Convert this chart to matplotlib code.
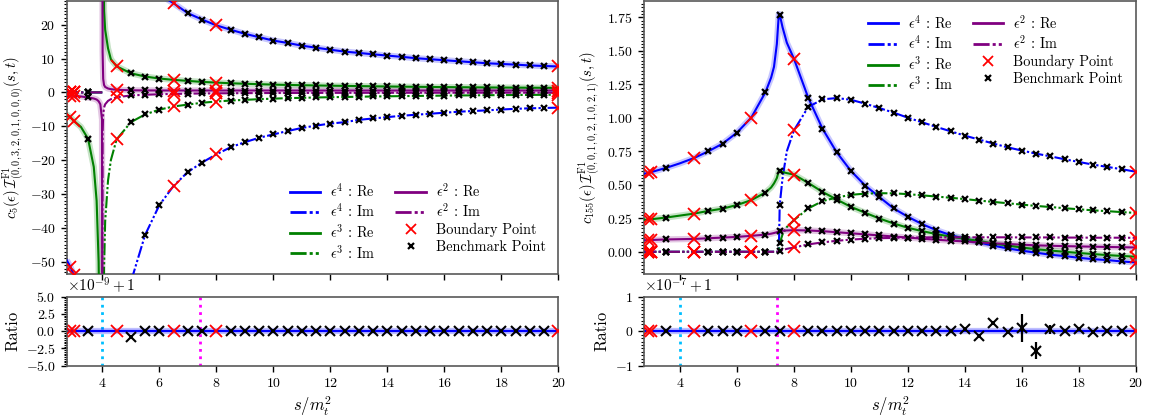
import numpy as np
import matplotlib
matplotlib.use("Agg")
import matplotlib.pyplot as plt
from matplotlib.ticker import AutoMinorLocator, FormatStrFormatter
from matplotlib.lines import Line2D

plt.rcParams.update({
    "font.family": "serif",
    "font.serif": ["cmr10", "DejaVu Serif"],
    "mathtext.fontset": "cm",
    "axes.formatter.use_mathtext": True,
    "axes.unicode_minus": True,
    "font.size": 10,
})

# ---------------- sample points ----------------
BOUNDARY_S = [2.88, 3.0, 4.5, 6.5, 8.0, 20.0]
BENCH_S = [3.5, 5.0, 5.5, 6.0, 7.0, 7.5, 8.5, 9.0, 9.5, 10.0, 10.5, 11.0, 11.5, 12.0,
           12.5, 13.0, 13.5, 14.0, 14.5, 15.0, 15.5, 16.0, 16.5, 17.0, 17.5, 18.0,
           18.5, 19.0, 19.5]
THRESH_1 = 4.0
THRESH_2 = 7.42

# ---------------- left panel: below threshold s<4 ----------------
L_s_below = [2.75, 2.88, 3.0, 3.25, 3.5, 3.7, 3.8, 3.87, 3.93, 3.99, 3.999]
L_e4re_below = [-49.5, -51.5, -54.0, -60.0, -68.0, -82.0, -95.0, -115.0, -150.0, -500.0, -2000.0]
L_e4im_below = [0.0] * 11
L_e3re_below = [-6.5, -7.3, -8.4, -10.2, -13.7, -22.0, -32.0, -50.0, -90.0, -600.0, -2000.0]
L_e3im_below = [0.0] * 11
L_e2re_below = [-0.9, -0.95, -1.0, -1.2, -1.5, -1.8, -2.1, -2.6, -3.5, -8.0, -100.0]
L_e2im_below = [0.0] * 11

# ---------------- left panel: above threshold s>4 ----------------
L_s_above = [4.001, 4.01, 4.03, 4.06, 4.1, 4.2, 4.3, 4.5, 5.0, 5.5, 6.0, 6.5, 7.0, 7.5, 8.0,
             8.5, 9.0, 9.5, 10.0, 10.5, 11.0, 11.5, 12.0, 12.5, 13.0, 13.5, 14.0, 14.5,
             15.0, 15.5, 16.0, 16.5, 17.0, 17.5, 18.0, 18.5, 19.0, 19.5, 20.0]
L_e4re_above = [3000, 800, 300, 170, 120, 85, 72, 58, 43, 35, 29.0, 26.3, 23.4, 21.5, 19.8,
                18.5, 17.3, 16.3, 15.3, 14.6, 13.8, 13.2, 12.6, 12.05, 11.66, 11.25, 10.87,
                10.5, 10.1, 9.8, 9.5, 9.2, 8.9, 8.6, 8.4, 8.2, 7.95, 7.8, 7.65]
L_e4im_above = [-3000, -900, -400, -250, -190, -130, -105, -80, -56, -42.1, -33.3, -27.6,
                -23.5, -20.7, -18.3, -16.2, -14.7, -13.4, -12.4, -11.4, -10.5, -9.8, -9.2,
                -8.8, -8.1, -7.7, -7.3, -6.9, -6.6, -6.3, -6.0, -5.7, -5.5, -5.3, -5.05,
                -4.85, -4.7, -4.6, -4.5]
L_e3re_above = [1000, 200, 50, 24, 18.5, 13.0, 9.8, 7.7, 5.65, 4.68, 4.1, 3.7, 3.4, 3.1, 2.9,
                2.7, 2.55, 2.42, 2.3, 2.2, 2.12, 2.05, 1.98, 1.92, 1.86, 1.8, 1.75, 1.7,
                1.65, 1.61, 1.57, 1.53, 1.5, 1.46, 1.43, 1.41, 1.38, 1.36, 1.34]
L_e3im_above = [-3000, -300, -90, -52, -38, -26, -20, -13.9, -8.8, -6.5, -5.1, -4.15, -3.6,
                -3.05, -2.7, -2.4, -2.2, -2.0, -1.85, -1.7, -1.6, -1.5, -1.42, -1.35, -1.28,
                -1.2, -1.15, -1.1, -1.05, -1.0, -0.95, -0.9, -0.87, -0.83, -0.8, -0.77,
                -0.74, -0.72, -0.7]
L_e2re_above = [100, 12, 4.0, 2.2, 1.6, 1.15, 0.95, 0.77, 0.62, 0.58, 0.57, 0.56, 0.56, 0.56,
                0.56, 0.56, 0.56, 0.56, 0.56, 0.56, 0.56, 0.56, 0.56, 0.56, 0.56, 0.56, 0.55,
                0.55, 0.55, 0.55, 0.55, 0.55, 0.55, 0.55, 0.55, 0.55, 0.55, 0.55, 0.55]
L_e2im_above = [-60, -12, -6.5, -4.5, -3.5, -2.5, -2.0, -1.45, -0.9, -0.7, -0.55, -0.45,
                -0.38, -0.32, -0.28, -0.25, -0.22, -0.2, -0.18, -0.17, -0.16, -0.15, -0.14,
                -0.13, -0.12, -0.12, -0.11, -0.11, -0.1, -0.1, -0.1, -0.09, -0.09, -0.09,
                -0.08, -0.08, -0.08, -0.08, -0.08]

# ---------------- right panel ----------------
R_s = [2.75, 2.88, 3.0, 3.5, 4.0, 4.5, 5.0, 5.5, 6.0, 6.5, 7.0, 7.2, 7.3, 7.4, 7.47, 7.5,
       7.6, 7.75, 8.0, 8.5, 9.0, 9.5, 10.0, 10.5, 11.0, 11.5, 12.0, 12.5, 13.0, 13.5, 14.0,
       14.5, 15.0, 15.5, 16.0, 16.5, 17.0, 17.5, 18.0, 18.5, 19.0, 19.5, 20.0]
R_e4re = [0.582, 0.588, 0.595, 0.625, 0.66, 0.70, 0.75, 0.807, 0.889, 1.0, 1.19, 1.30, 1.38,
          1.55, 1.775, 1.77, 1.675, 1.56, 1.44, 1.15, 0.919, 0.742, 0.603, 0.494, 0.408,
          0.323, 0.261, 0.206, 0.161, 0.124, 0.097, 0.07, 0.045, 0.025, 0.008, -0.007,
          -0.022, -0.032, -0.045, -0.055, -0.062, -0.072, -0.08]
R_e4im = [0, 0, 0, 0, 0, 0, 0, 0, 0, 0, 0, 0, 0, 0, 0.0, 0.347, 0.55, 0.75, 0.906, 1.08,
          1.137, 1.147, 1.134, 1.105, 1.072, 1.038, 1.0, 0.966, 0.931, 0.899, 0.866, 0.837,
          0.807, 0.779, 0.755, 0.732, 0.712, 0.69, 0.67, 0.65, 0.633, 0.616, 0.597]
R_e3re = [0.238, 0.241, 0.243, 0.255, 0.27, 0.285, 0.305, 0.322, 0.349, 0.385, 0.442, 0.48,
          0.51, 0.55, 0.605, 0.603, 0.595, 0.587, 0.576, 0.514, 0.447, 0.39, 0.335, 0.291,
          0.248, 0.211, 0.179, 0.154, 0.132, 0.112, 0.097, 0.08, 0.062, 0.047, 0.032,
          0.019, 0.009, 0.0, -0.009, -0.017, -0.025, -0.031, -0.037]
R_e3im = [0, 0, 0, 0, 0, 0, 0, 0, 0, 0, 0, 0, 0, 0, 0.0, 0.062, 0.13, 0.185, 0.236, 0.323,
          0.378, 0.405, 0.425, 0.434, 0.437, 0.436, 0.43, 0.421, 0.412, 0.403, 0.393, 0.382,
          0.372, 0.362, 0.352, 0.342, 0.334, 0.325, 0.317, 0.309, 0.303, 0.296, 0.29]
R_e2re = [0.086, 0.087, 0.088, 0.092, 0.094, 0.096, 0.101, 0.106, 0.111, 0.119, 0.128, 0.135,
          0.14, 0.146, 0.153, 0.154, 0.157, 0.159, 0.161, 0.159, 0.154, 0.146, 0.138, 0.13,
          0.122, 0.114, 0.106, 0.098, 0.09, 0.083, 0.077, 0.07, 0.063, 0.058, 0.053, 0.048,
          0.045, 0.042, 0.04, 0.038, 0.036, 0.034, 0.032]
R_e2im = [0, 0, 0, 0, 0, 0, 0, 0, 0, 0, 0, 0, 0, 0, 0.0, 0.007, 0.013, 0.022, 0.032, 0.055,
          0.07, 0.082, 0.091, 0.097, 0.101, 0.104, 0.106, 0.107, 0.108, 0.108, 0.108, 0.108,
          0.108, 0.108, 0.107, 0.107, 0.107, 0.106, 0.106, 0.105, 0.105, 0.105, 0.104]

# ---------------- ratio panels (deviation from 1, at BENCH_S) ----------------
L_ratio_dev = [0, -0.8e-9, 0, 0, 0, 0, 0, 0, 0, 0, 0, 0, 0, 0, 0, 0, 0, 0, 0, 0, 0, 0, 0, 0,
               0, 0, 0, 0, 0]
L_ratio_err = [0.02e-9, 0.25e-9, 0.02e-9, 0.02e-9, 0.02e-9, 0.02e-9, 0.02e-9, 0.02e-9,
               0.02e-9, 0.02e-9, 0.02e-9, 0.02e-9, 0.02e-9, 0.02e-9, 0.02e-9, 0.02e-9,
               0.02e-9, 0.02e-9, 0.02e-9, 0.02e-9, 0.02e-9, 0.02e-9, 0.02e-9, 0.02e-9,
               0.02e-9, 0.02e-9, 0.02e-9, 0.02e-9, 0.02e-9]
R_ratio_dev = [0, 0, 0, 0, 0, 0, 0, 0, 0, 0, 0, 0, 0, 0, 0, 0, 0,
               0.05e-7, -0.13e-7, 0.25e-7, -0.03e-7, 0.1e-7, -0.57e-7, 0.05e-7, 0.0,
               0.07e-7, -0.03e-7, 0.0, 0.0]
R_ratio_err = [0.01e-7, 0.01e-7, 0.01e-7, 0.01e-7, 0.01e-7, 0.01e-7, 0.01e-7, 0.01e-7,
               0.01e-7, 0.01e-7, 0.01e-7, 0.01e-7, 0.01e-7, 0.01e-7, 0.01e-7, 0.01e-7,
               0.01e-7, 0.04e-7, 0.05e-7, 0.06e-7, 0.02e-7, 0.4e-7, 0.25e-7, 0.12e-7,
               0.05e-7, 0.03e-7, 0.02e-7, 0.01e-7, 0.01e-7]

# tick labels of the ratio panels
L_ratio_ticks = [-5.0, -2.5, 0.0, 2.5, 5.0]
L_ratio_ticklabels = [r"$-5.0$", r"$-2.5$", r"$0.0$", r"$2.5$", r"$5.0$"]
L_ratio_scale = 1e-9
L_ratio_offset = r"$\times10^{-9} + 1$"
R_ratio_ticks = [-1, 0, 1]
R_ratio_ticklabels = [r"$-1$", r"$0$", r"$1$"]
R_ratio_scale = 1e-7
R_ratio_offset = r"$\times10^{-7} + 1$"

# ---------------- styling ----------------
BLUE, GREEN, PURPLE = "#0000ff", "#008000", "#800080"
IM_LS = (0, (5.8, 1.1, 1.1, 1.1, 1.1, 1.1))
LW = 1.5
SPINE = "0.35"

W, H = 1156, 419
fig = plt.figure(figsize=(W / 100, H / 100), dpi=100)


def ax_px(x0, y0, x1, y1):
    return fig.add_axes([x0 / W, 1 - y1 / H, (x1 - x0) / W, (y1 - y0) / H])


axL = ax_px(66.7, 0.6, 558.3, 274.3)
axLr = ax_px(66.7, 296.7, 558.3, 365.7)
axR = ax_px(644.3, 0.6, 1136, 274.3)
axRr = ax_px(644.3, 296.7, 1136, 365.7)


def pick(s, v, targets):
    s = np.asarray(s, float)
    v = np.asarray(v, float)
    idx = [int(np.argmin(np.abs(s - t))) for t in targets]
    return s[idx], v[idx]


def draw_series(ax, s, v, color, ls, halo):
    s = np.asarray(s, float)
    v = np.asarray(v, float)
    if halo:
        ax.plot(s, v, color=color, lw=4.5, alpha=0.22, solid_capstyle="butt", zorder=2)
    ax.plot(s, v, color=color, lw=LW, ls=ls, zorder=3)
    fin = np.isfinite(v)
    bs, bv = pick(s[fin], v[fin], BENCH_S)
    ax.plot(bs, bv, ls="none", marker="x", ms=4, mew=1.6, color="black", zorder=5)
    rs, rv = pick(s[fin], v[fin], BOUNDARY_S)
    ax.plot(rs, rv, ls="none", marker="x", ms=8, mew=1.3, color="red", zorder=4)


def join(sb, vb, sa, va):
    return list(sb) + [THRESH_1] + list(sa), list(vb) + [np.nan] + list(va)


labels = [r"$\epsilon^4$ : Re", r"$\epsilon^4$ : Im",
          r"$\epsilon^3$ : Re", r"$\epsilon^3$ : Im",
          r"$\epsilon^2$ : Re", r"$\epsilon^2$ : Im"]

left_series = [
    (L_e4re_below, L_e4re_above, BLUE, "-", True),
    (L_e4im_below, L_e4im_above, BLUE, IM_LS, False),
    (L_e3re_below, L_e3re_above, GREEN, "-", True),
    (L_e3im_below, L_e3im_above, GREEN, IM_LS, False),
    (L_e2re_below, L_e2re_above, PURPLE, "-", True),
    (L_e2im_below, L_e2im_above, PURPLE, IM_LS, False),
]
for vb, va, c, ls, halo in left_series:
    s, v = join(L_s_below, vb, L_s_above, va)
    draw_series(axL, s, v, c, ls, halo)

right_series = [
    (R_e4re, BLUE, "-", True), (R_e4im, BLUE, IM_LS, False),
    (R_e3re, GREEN, "-", True), (R_e3im, GREEN, IM_LS, False),
    (R_e2re, PURPLE, "-", True), (R_e2im, PURPLE, IM_LS, False),
]
for v, c, ls, halo in right_series:
    draw_series(axR, R_s, v, c, ls, halo)

# ratio panels: plotted in units of the scale around 1 (offset shown as text)
bench_arr = np.asarray(BENCH_S)
bnd_arr = np.asarray(BOUNDARY_S)
for ax, dev, err, sc, tks, tkl, offs, lim in [
        (axLr, L_ratio_dev, L_ratio_err, L_ratio_scale, L_ratio_ticks, L_ratio_ticklabels,
         L_ratio_offset, 5.0),
        (axRr, R_ratio_dev, R_ratio_err, R_ratio_scale, R_ratio_ticks, R_ratio_ticklabels,
         R_ratio_offset, 1.0)]:
    ratio = 1.0 + np.asarray(dev)
    y = (ratio - 1.0) / sc
    yerr = np.asarray(err) / sc
    ax.axvline(THRESH_1, color="#00bfff", ls=":", lw=2.0, zorder=1)
    ax.axvline(THRESH_2, color="magenta", ls=":", lw=2.0, zorder=1)
    ax.axhline(0.0, color=BLUE, lw=4.5, alpha=0.25, zorder=2)
    ax.axhline(0.0, color=BLUE, lw=1.6, zorder=2)
    ax.errorbar(bench_arr, y, yerr=yerr, fmt="none", ecolor="black", elinewidth=1.6, zorder=4)
    ax.plot(bench_arr, y, ls="none", marker="x", ms=7, mew=1.5, color="black", zorder=5)
    ax.plot(bnd_arr, np.zeros_like(bnd_arr), ls="none", marker="x", ms=8, mew=1.3,
            color="red", zorder=5)
    ax.set_ylim(-lim, lim)
    ax.set_yticks(tks)
    ax.set_yticklabels(tkl)
    ax.text(0.0, 1.03, offs, transform=ax.transAxes, ha="left", va="bottom", fontsize=11)
    ax.set_xlabel(r"$s/m_t^2$", fontsize=12, labelpad=3)
    ax.set_ylabel("Ratio", fontsize=12, labelpad=4)

axL.set_ylim(-53.7, 27.1)
axL.set_yticks([-50, -40, -30, -20, -10, 0, 10, 20])
axR.set_ylim(-0.168, 1.874)
axR.set_yticks([0.0, 0.25, 0.5, 0.75, 1.0, 1.25, 1.5, 1.75])
axR.yaxis.set_major_formatter(FormatStrFormatter(r"$%.2f$"))

for ax in (axL, axLr, axR, axRr):
    ax.set_xlim(2.75, 20)
    ax.set_xticks([4, 6, 8, 10, 12, 14, 16, 18, 20])
    ax.yaxis.set_minor_locator(AutoMinorLocator(10))
    ax.tick_params(axis="both", which="major", length=4.5, width=1.0, labelsize=10)
    ax.tick_params(axis="y", which="minor", length=2.5, width=0.8)
    for sp in ax.spines.values():
        sp.set_color(SPINE)
        sp.set_linewidth(1.2)

for ax in (axL, axR):
    ax.tick_params(axis="x", labelbottom=False)

axL.set_ylabel(r"$c_5(\epsilon)\,\mathcal{I}^{\mathrm{F1}}_{(0,0,3,2,0,1,0,0,0)}(s,t)$",
               fontsize=10.5, labelpad=2)
axR.set_ylabel(r"$c_{155}(\epsilon)\,\mathcal{I}^{\mathrm{F1}}_{(0,0,1,0,2,1,0,2,1)}(s,t)$",
               fontsize=10.5, labelpad=3)

legend_handles = []
for (c, ls), lab in zip([(BLUE, "-"), (BLUE, IM_LS), (GREEN, "-"), (GREEN, IM_LS),
                         (PURPLE, "-"), (PURPLE, IM_LS)], labels):
    legend_handles.append(Line2D([], [], color=c, ls=ls, lw=LW + 0.5, label=lab))
legend_handles.append(Line2D([], [], ls="none", marker="x", ms=7, mew=1.3, color="red",
                             label="Boundary Point"))
legend_handles.append(Line2D([], [], ls="none", marker="x", ms=4, mew=1.6, color="black",
                             label="Benchmark Point"))

leg_kw = dict(ncol=2, frameon=False, fontsize=10.3, handlelength=2.1, columnspacing=1.4,
              labelspacing=0.2, handletextpad=0.7)
axL.legend(handles=legend_handles, loc="lower right", **leg_kw)
axR.legend(handles=legend_handles, loc="upper right", **leg_kw)

fig.savefig("out.png", dpi=100)
